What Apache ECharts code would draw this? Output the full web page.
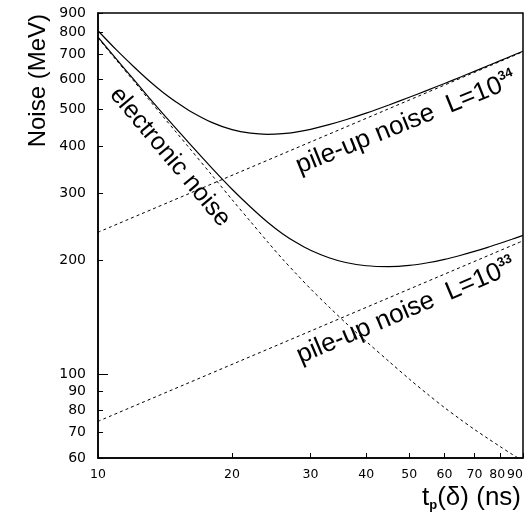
<!DOCTYPE html>
<html>
<head>
<meta charset="utf-8">
<script src="https://cdn.jsdelivr.net/npm/echarts@6/dist/echarts.min.js"></script>
<style>
  html, body { margin: 0; padding: 0; background: #fff; }
  #chart { width: 532px; height: 513px; }
</style>
</head>
<body>
<div id="chart"></div>
<script>
// Shaping time t_p (ns) sample points
const tp = [10, 11, 12, 13, 14, 15, 16, 18, 20, 22, 24, 26, 28, 30, 33, 36, 40, 45, 50, 55, 60, 65, 70, 75, 80, 85, 90];
// Electronic noise (MeV)
const electronicNoise = [773, 675, 597, 532, 479, 435, 397, 336, 289, 253, 224, 201, 183, 168, 150.5, 136.5, 122, 108, 97, 88.4, 81.5, 76, 71.4, 67.6, 64.3, 61.4, 58.9];
// Total noise (MeV) at L = 10^34
const totalL34 = [808, 719, 651, 597, 555, 523, 497.5, 462.6, 442.6, 433.1, 430.1, 431.8, 436.8, 443.5, 456.1, 469.9, 489.4, 514.2, 538.8, 562.8, 586.2, 609, 631.1, 652.6, 673.4, 693.7, 713.4];
// Total noise (MeV) at L = 10^33
const totalL33 = [776.6, 679.6, 602.6, 538.8, 487.2, 444.6, 408.2, 350.7, 307.9, 276.4, 252.3, 234.6, 221.9, 212.4, 203, 197.2, 193.3, 192.3, 193.7, 196.9, 201, 205.8, 210.9, 216.2, 221.7, 227.1, 232.6];
// Pile-up noise (MeV): straight lines on log-log axes
const pileupT = [10, 90];
const pileupL34 = [237, 711];
const pileupL33 = [75, 225];

// Axis tick values
const xTicks = [10, 20, 30, 40, 50, 60, 70, 80, 90];
const xCrowdedTicks = [80];   // labelled separately, nudged left of "90"
const yTicks = [60, 70, 80, 90, 100, 200, 300, 400, 500, 600, 700, 800, 900];
const yMajorTicks = [100];

const lg = Math.log10;
const toPts = (xs, ys) => xs.map((x, i) => [lg(x), lg(ys[i])]);
const fmt = v => String(Math.round(Math.pow(10, v)));

// small padding so the end ticks survive floating-point comparisons
const EPS = 1e-9;
const X_MIN = lg(10) - EPS, X_MAX = lg(90) + EPS;
const Y_MIN = lg(60) - EPS, Y_MAX = lg(900) + EPS;

const yTickFont = { fontFamily: 'DejaVu Sans', fontSize: 14, color: '#000' };
const xTickFont = { fontFamily: 'DejaVu Sans', fontSize: 12.5, color: '#000' };
const textFont = 'Liberation Sans';

const solid = { color: '#000', width: 1.2, type: 'solid' };
const dashed = { color: '#000', width: 1, type: [3, 3] };

function lineSeries(name, pts, style) {
  return {
    name, type: 'line', data: pts, smooth: 0.3, showSymbol: false,
    lineStyle: style, clip: true, silent: true
  };
}

const supRich = {
  n: { fontFamily: textFont, fontSize: 26, lineHeight: 28, fill: '#000' },
  s: { fontFamily: textFont, fontSize: 13, fontWeight: 'bold', lineHeight: 13, verticalAlign: 'top', fill: '#000' }
};

const chart = echarts.init(document.getElementById('chart'), null, { renderer: 'canvas' });

chart.setOption({
  animation: false,
  backgroundColor: '#fff',
  grid: {
    left: 98, right: 9, top: 13, bottom: 55,
    show: true, borderColor: '#000', borderWidth: 1.5, backgroundColor: 'transparent'
  },
  xAxis: [{
    type: 'value', min: X_MIN, max: X_MAX,
    axisLine: { show: true, lineStyle: { color: '#000', width: 1.5 } },
    axisTick: { show: true, inside: true, length: 5, customValues: xTicks.map(lg), lineStyle: { color: '#000', width: 1 } },
    axisLabel: {
      show: true,
      customValues: xTicks.filter(t => !xCrowdedTicks.includes(t)).map(lg),
      formatter: fmt, margin: 10,
      showMinLabel: true, showMaxLabel: true, alignMaxLabel: 'right', hideOverlap: false,
      ...xTickFont
    },
    splitLine: { show: false }
  }, {
    type: 'value', min: X_MIN, max: X_MAX, position: 'bottom',
    axisLine: { show: false },
    axisTick: { show: false },
    axisLabel: {
      show: true, customValues: xCrowdedTicks.map(lg),
      formatter: v => '{l|' + fmt(v) + '}', margin: 10,
      ...xTickFont,
      rich: { l: { ...xTickFont, padding: [0, 6, 0, 0] } }
    },
    splitLine: { show: false }
  }],
  yAxis: [{
    type: 'value', min: Y_MIN, max: Y_MAX,
    axisLine: { show: true, lineStyle: { color: '#000', width: 1.5 } },
    axisTick: { show: true, inside: true, length: 5, customValues: yTicks.map(lg), lineStyle: { color: '#000', width: 1 } },
    axisLabel: { show: true, customValues: yTicks.map(lg), formatter: fmt, margin: 12, showMinLabel: true, showMaxLabel: true, hideOverlap: false, ...yTickFont },
    splitLine: { show: false }
  }, {
    type: 'value', min: Y_MIN, max: Y_MAX, position: 'left',
    axisLine: { show: false },
    axisTick: { show: true, inside: true, length: 10, customValues: yMajorTicks.map(lg), lineStyle: { color: '#000', width: 1 } },
    axisLabel: { show: false },
    splitLine: { show: false }
  }],
  series: [
    lineSeries('electronic noise', toPts(tp, electronicNoise), dashed),
    lineSeries('total L=1e34', toPts(tp, totalL34), solid),
    lineSeries('total L=1e33', toPts(tp, totalL33), solid),
    lineSeries('pile-up L=1e34', toPts(pileupT, pileupL34), dashed),
    lineSeries('pile-up L=1e33', toPts(pileupT, pileupL33), dashed)
  ],
  graphic: [
    {
      type: 'text', x: 38, y: 14, rotation: Math.PI / 2,
      style: { text: 'Noise (MeV)', fontFamily: textFont, fontSize: 24, fill: '#000', align: 'right', verticalAlign: 'middle' }
    },
    {
      type: 'text', x: 521, y: 498,
      style: {
        text: '{n|t}{s|p}{n|(δ) (ns)}', align: 'right', verticalAlign: 'middle',
        rich: {
          n: { fontFamily: textFont, fontSize: 26, lineHeight: 28, fill: '#000' },
          s: { fontFamily: textFont, fontSize: 13, fontWeight: 'bold', lineHeight: 12, verticalAlign: 'bottom', fill: '#000' }
        }
      }
    },
    {
      type: 'text', x: 170, y: 157, rotation: -50 * Math.PI / 180,
      style: { text: 'electronic noise', fontFamily: textFont, fontSize: 25, fill: '#000', align: 'center', verticalAlign: 'middle' }
    },
    {
      type: 'text', x: 406, y: 123, rotation: 22 * Math.PI / 180,
      style: { text: '{n|pile-up noise  L=10}{s|34}', align: 'center', verticalAlign: 'middle', rich: supRich }
    },
    {
      type: 'text', x: 406, y: 311, rotation: 23 * Math.PI / 180,
      style: { text: '{n|pile-up noise  L=10}{s|33}', align: 'center', verticalAlign: 'middle', rich: supRich }
    }
  ]
});
</script>
</body>
</html>
